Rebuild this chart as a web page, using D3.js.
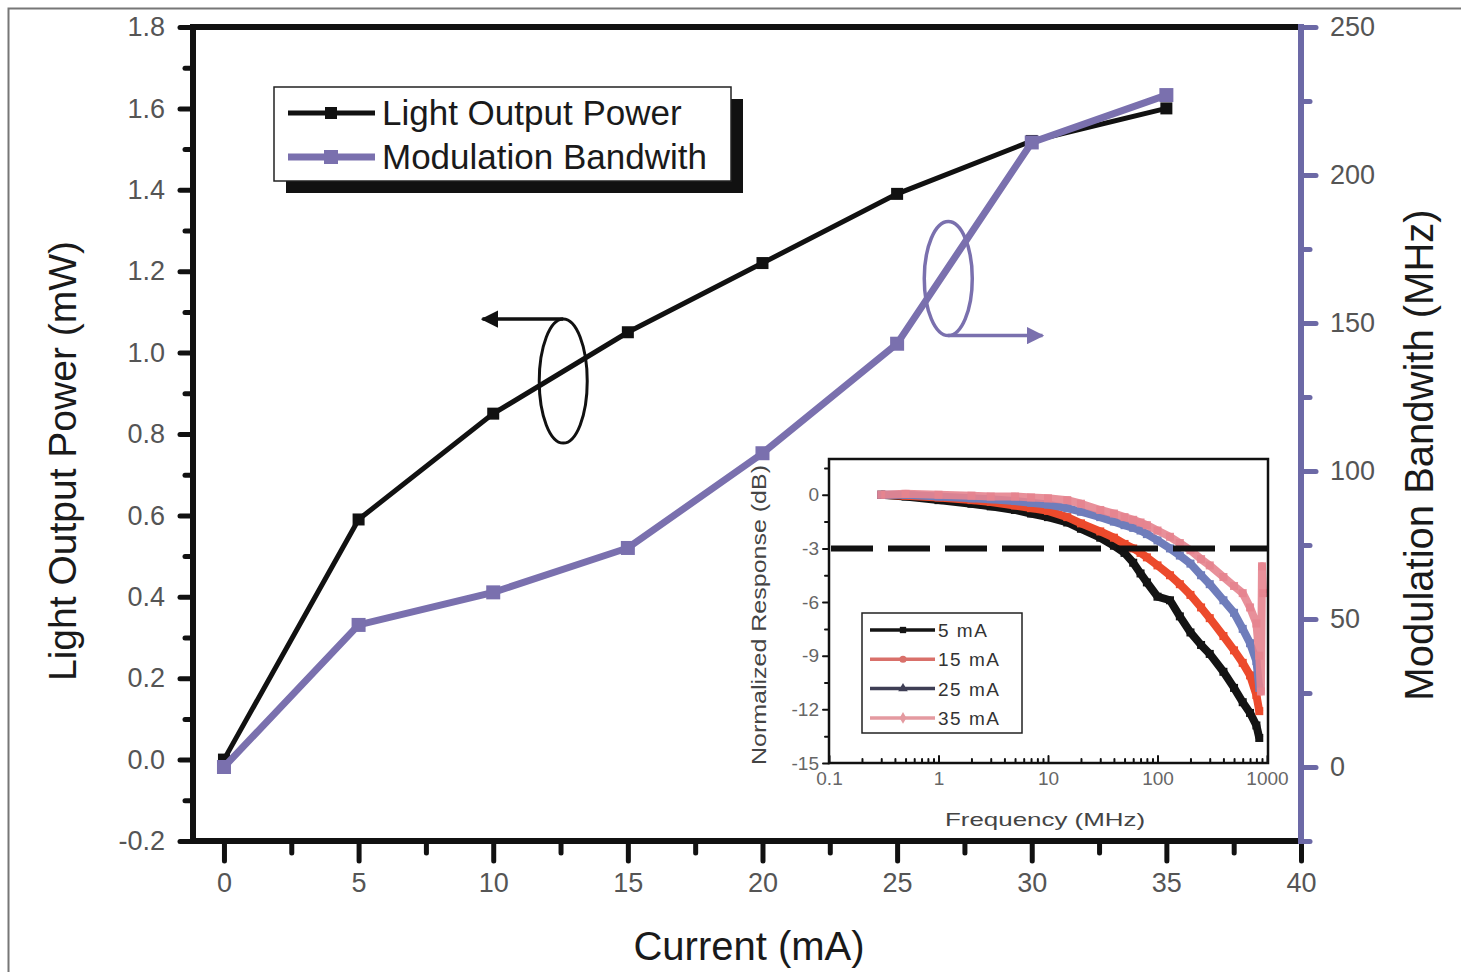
<!DOCTYPE html>
<html><head><meta charset="utf-8">
<script src="https://cdn.jsdelivr.net/npm/d3@7"></script>
<style>
body{margin:0;background:#fff;overflow:hidden}
text{font-family:"Liberation Sans",Arial,Helvetica,sans-serif}
</style>
</head><body>
<svg id="c" width="1461" height="972"></svg>
<script>
// ---------- main chart data ----------
const current    = [0, 5, 10, 15, 20, 25, 30, 35];
const lightPower = [0.00, 0.59, 0.85, 1.05, 1.22, 1.39, 1.52, 1.60];
const bandwidth  = [0, 48, 59, 74, 106, 143, 211, 227];
const xTicks      = [0, 5, 10, 15, 20, 25, 30, 35, 40];
const xMinor      = [2.5, 7.5, 12.5, 17.5, 22.5, 27.5, 32.5, 37.5];
const yLeftTicks  = [-0.2, 0.0, 0.2, 0.4, 0.6, 0.8, 1.0, 1.2, 1.4, 1.6, 1.8];
const yLeftMinor  = [-0.1, 0.1, 0.3, 0.5, 0.7, 0.9, 1.1, 1.3, 1.5, 1.7];
const yRightTicks = [0, 50, 100, 150, 200, 250];
const yRightMinor = [-25, 25, 75, 125, 175, 225];
const seriesNames = ["Light Output Power", "Modulation Bandwith"];

// ---------- inset data ----------
const freq   = [0.3, 0.5, 1, 2, 3, 5, 7, 10, 15, 20, 30, 40, 50, 60, 70, 80, 100, 130, 160, 200, 250, 300, 400, 500, 600, 700, 800, 850];
const resp5  = [0, -0.1, -0.3, -0.5, -0.65, -0.85, -1.05, -1.25, -1.55, -1.9, -2.4, -2.85, -3.25, -3.8, -4.4, -4.9, -5.7, -5.9, -6.8, -7.7, -8.4, -8.9, -9.9, -10.8, -11.6, -12.2, -12.9, -13.6];
const resp15 = [0, -0.05, -0.15, -0.3, -0.4, -0.6, -0.75, -0.9, -1.25, -1.6, -2.05, -2.4, -2.75, -3.0, -3.25, -3.5, -3.95, -4.5, -5.0, -5.6, -6.3, -6.9, -7.9, -8.7, -9.4, -10.1, -11.2, -12.1];
const resp25 = [0, 0, -0.1, -0.2, -0.25, -0.35, -0.45, -0.55, -0.75, -0.95, -1.25, -1.5, -1.7, -1.85, -2.0, -2.2, -2.55, -3.0, -3.4, -3.85, -4.5, -5.0, -5.9, -6.6, -7.5, -8.3, -9.3, -10.8];
const resp35 = [0, 0.05, 0, -0.05, -0.1, -0.1, -0.15, -0.2, -0.3, -0.5, -0.85, -1.05, -1.25, -1.4, -1.55, -1.7, -2.0, -2.35, -2.7, -3.1, -3.6, -3.95, -4.6, -5.1, -5.5, -6.3, -7.2, -9.0];
const tail35Freq = [880, 900, 920];
const tail35Resp = [-11.0, -4.0, -5.5];
const insetLabels = ["5 mA", "15 mA", "25 mA", "35 mA"];
const insetYTicks = [0, -3, -6, -9, -12, -15];
const insetYMinor = [1.5, -1.5, -4.5, -7.5, -10.5, -13.5];
const insetXTicks = [0.1, 1, 10, 100, 1000];
const cutoffDb = -3;

// ---------- styles ----------
const BLACK = "#111", PURPLE = "#7a70ae", PURPLE_AXIS = "#6c69a6", LABEL = "#555";
const insetColors = ["#141414", "#ec4a2c", "#6f7dbb", "#e5848f"];
const insetLegendColors = ["#141414", "#d9706a", "#3e3e55", "#e49aa0"];
const hyph = f => d => f(d).replace("\u2212", "-");

const svg = d3.select("#c");

// outer frame
svg.append("rect").attr("x", 8.5).attr("y", 8.5).attr("width", 1480).attr("height", 1000)
  .attr("fill", "none").attr("stroke", "#777").attr("stroke-width", 2);

// ---------- main scales ----------
const L = 193, R = 1301, T = 27, B = 841;
const x  = d3.scaleLinear().domain([-1.15, 40]).range([L, R]);
const yL = d3.scaleLinear().domain([-0.2, 1.8]).range([B, T]);
const yR = d3.scaleLinear().domain([-25, 250]).range([B, T]);

function styleAxis(g, color, width, fontSize, fill) {
  g.select(".domain").remove();
  g.selectAll(".tick line").attr("stroke", color).attr("stroke-width", width).attr("stroke-linecap", "round");
  g.selectAll(".tick text").attr("fill", fill || LABEL).attr("font-size", fontSize)
    .attr("font-family", '"Liberation Sans",Arial,sans-serif');
}

// bottom axis
svg.append("g").attr("transform", `translate(0,${B})`)
  .call(d3.axisBottom(x).tickValues(xMinor).tickSize(12).tickFormat(""))
  .call(g => styleAxis(g, BLACK, 5, 0));
svg.append("g").attr("transform", `translate(0,${B})`)
  .call(d3.axisBottom(x).tickValues(xTicks).tickSize(20).tickPadding(12).tickFormat(d3.format("d")))
  .call(g => styleAxis(g, BLACK, 5, 27));

// left axis
svg.append("g").attr("transform", `translate(${L},0)`)
  .call(d3.axisLeft(yL).tickValues(yLeftMinor).tickSize(8).tickFormat(""))
  .call(g => styleAxis(g, BLACK, 5, 0));
svg.append("g").attr("transform", `translate(${L},0)`)
  .call(d3.axisLeft(yL).tickValues(yLeftTicks).tickSize(13).tickPadding(15).tickFormat(hyph(d3.format(".1f"))))
  .call(g => styleAxis(g, BLACK, 5, 27));

// right axis
svg.append("g").attr("transform", `translate(${R},0)`)
  .call(d3.axisRight(yR).tickValues(yRightMinor).tickSize(9).tickFormat(""))
  .call(g => styleAxis(g, PURPLE_AXIS, 5, 0));
svg.append("g").attr("transform", `translate(${R},0)`)
  .call(d3.axisRight(yR).tickValues(yRightTicks).tickSize(15).tickPadding(14).tickFormat(d3.format("d")))
  .call(g => styleAxis(g, PURPLE_AXIS, 5, 27));

// frame lines
svg.append("line").attr("x1", L - 3).attr("x2", R).attr("y1", T).attr("y2", T).attr("stroke", BLACK).attr("stroke-width", 6);
svg.append("line").attr("x1", L - 3).attr("x2", R).attr("y1", B).attr("y2", B).attr("stroke", BLACK).attr("stroke-width", 6);
svg.append("line").attr("x1", L).attr("x2", L).attr("y1", T - 3).attr("y2", B + 3).attr("stroke", BLACK).attr("stroke-width", 6);
svg.append("line").attr("x1", R).attr("x2", R).attr("y1", T - 3).attr("y2", B + 3).attr("stroke", PURPLE_AXIS).attr("stroke-width", 6);

// axis titles
svg.append("text").attr("transform", `translate(76,461) rotate(-90)`).attr("text-anchor", "middle")
  .attr("font-size", 39).attr("fill", "#1a1a1a").text("Light Output Power (mW)");
svg.append("text").attr("transform", `translate(1433,455) rotate(-90)`).attr("text-anchor", "middle")
  .attr("font-size", 40).attr("fill", "#1a1a1a").text("Modulation Bandwith (MHz)");
svg.append("text").attr("x", 749).attr("y", 960).attr("text-anchor", "middle")
  .attr("font-size", 40).attr("fill", "#1a1a1a").text("Current (mA)");

// ---------- main series ----------
const powerPts = current.map((c, i) => [c, lightPower[i]]);
const bwPts = current.map((c, i) => [c, bandwidth[i]]);
svg.append("path").datum(powerPts)
  .attr("d", d3.line().x(d => x(d[0])).y(d => yL(d[1])))
  .attr("fill", "none").attr("stroke", BLACK).attr("stroke-width", 5);
svg.selectAll(".mp").data(powerPts).enter().append("rect")
  .attr("x", d => x(d[0]) - 6).attr("y", d => yL(d[1]) - 6).attr("width", 12).attr("height", 12).attr("fill", BLACK);
svg.append("path").datum(bwPts)
  .attr("d", d3.line().x(d => x(d[0])).y(d => yR(d[1])))
  .attr("fill", "none").attr("stroke", PURPLE).attr("stroke-width", 7);
svg.selectAll(".mb").data(bwPts).enter().append("rect")
  .attr("x", d => x(d[0]) - 7).attr("y", d => yR(d[1]) - 7).attr("width", 14).attr("height", 14).attr("fill", PURPLE);

// ---------- annotations (ellipses + arrows) ----------
const defs = svg.append("defs");
[["ahB", BLACK], ["ahP", PURPLE]].forEach(([id, col]) => {
  defs.append("marker").attr("id", id).attr("viewBox", "0 0 10 10").attr("refX", 9).attr("refY", 5)
    .attr("markerWidth", 5).attr("markerHeight", 5).attr("orient", "auto-start-reverse").attr("markerUnits", "strokeWidth")
    .append("path").attr("d", "M0,0 L10,5 L0,10 Z").attr("fill", col);
});
const ann1 = {cx: 12.6, cy: 0.93, arrowTo: 9.6};
const e1x = x(ann1.cx), e1y = yL(ann1.cy);
svg.append("ellipse").attr("cx", e1x).attr("cy", e1y).attr("rx", 24).attr("ry", 62)
  .attr("fill", "none").attr("stroke", BLACK).attr("stroke-width", 3);
svg.append("line").attr("x1", e1x).attr("y1", e1y - 62).attr("x2", x(ann1.arrowTo)).attr("y2", e1y - 62)
  .attr("stroke", BLACK).attr("stroke-width", 3.5).attr("marker-end", "url(#ahB)");
const ann2 = {cx: 26.9, cy: 165, arrowTo: 30.4};
const e2x = x(ann2.cx), e2y = yR(ann2.cy);
svg.append("ellipse").attr("cx", e2x).attr("cy", e2y).attr("rx", 24).attr("ry", 57)
  .attr("fill", "none").attr("stroke", PURPLE).attr("stroke-width", 3.5);
svg.append("line").attr("x1", e2x).attr("y1", e2y + 57).attr("x2", x(ann2.arrowTo)).attr("y2", e2y + 57)
  .attr("stroke", PURPLE).attr("stroke-width", 3.5).attr("marker-end", "url(#ahP)");

// ---------- main legend ----------
const lg = svg.append("g");
lg.append("rect").attr("x", 286).attr("y", 99).attr("width", 457).attr("height", 94).attr("fill", BLACK);
lg.append("rect").attr("x", 274).attr("y", 87).attr("width", 457).attr("height", 94)
  .attr("fill", "#fff").attr("stroke", "#222").attr("stroke-width", 1.5);
seriesNames.forEach((name, i) => {
  const yy = 113 + i * 44, col = i === 0 ? BLACK : PURPLE, sz = i === 0 ? 12 : 14;
  lg.append("line").attr("x1", 288).attr("x2", 375).attr("y1", yy).attr("y2", yy)
    .attr("stroke", col).attr("stroke-width", i === 0 ? 5 : 7);
  lg.append("rect").attr("x", 331 - sz / 2).attr("y", yy - sz / 2).attr("width", sz).attr("height", sz).attr("fill", col);
  lg.append("text").attr("x", 382).attr("y", yy + 12).attr("font-size", 35).attr("fill", "#1a1a1a").text(name);
});

// ---------- inset ----------
const IL = 829, IR = 1268, IT = 459, IB = 763;
const ix = d3.scaleLog().domain([0.1, 1000]).range([IL, IR - 1]);
const iy = d3.scaleLinear().domain([-15, 2]).range([IB, IT]);
const ins = svg.append("g");
ins.append("rect").attr("x", IL).attr("y", IT).attr("width", IR - IL).attr("height", IB - IT).attr("fill", "#fff");

// ticks
const minorX = [];
[0.1, 1, 10, 100].forEach(d => { for (let k = 2; k <= 9; k++) minorX.push(d * k); });
ins.append("g").attr("transform", `translate(0,${IB})`)
  .call(d3.axisTop(ix).tickValues(minorX).tickSize(4).tickFormat(""))
  .call(g => styleAxis(g, BLACK, 2, 0));
ins.append("g").attr("transform", `translate(0,${IB})`)
  .call(d3.axisBottom(ix).tickValues(insetXTicks).tickSize(0).tickPadding(9).tickFormat(d => String(d)))
  .call(g => styleAxis(g, BLACK, 2, 19, "#666"));
ins.append("g").attr("transform", `translate(0,${IB})`)
  .call(d3.axisTop(ix).tickValues(insetXTicks).tickSize(7).tickFormat(""))
  .call(g => styleAxis(g, BLACK, 2, 0));
ins.append("g").attr("transform", `translate(${IL},0)`)
  .call(d3.axisLeft(iy).tickValues(insetYMinor).tickSize(4).tickFormat(""))
  .call(g => styleAxis(g, BLACK, 2, 0));
ins.append("g").attr("transform", `translate(${IL},0)`)
  .call(d3.axisLeft(iy).tickValues(insetYTicks).tickSize(6).tickPadding(4).tickFormat(d => String(d)))
  .call(g => styleAxis(g, BLACK, 2, 19, "#666"));

// curves
const respSeries = [resp5, resp15, resp25, resp35];
const iline = d3.line().x(d => ix(d[0])).y(d => iy(d[1]));
respSeries.forEach((vals, s) => {
  let pts = freq.map((f, i) => [f, vals[i]]);
  if (s === 3) pts = pts.concat(tail35Freq.map((f, i) => [f, tail35Resp[i]]));
  ins.append("path").datum(pts).attr("d", iline).attr("fill", "none")
    .attr("stroke", insetColors[s]).attr("stroke-width", 8).attr("stroke-linejoin", "round")
    .attr("opacity", s === 3 ? 0.9 : 1);
  ins.selectAll(null).data(pts).enter().append("rect")
    .attr("x", d => ix(d[0]) - 4).attr("y", d => iy(d[1]) - 4).attr("width", 8).attr("height", 8)
    .attr("fill", insetColors[s]).attr("opacity", s === 3 ? 0.9 : 1);
});

// -3 dB dashed line
ins.append("line").attr("x1", IL + 2).attr("x2", IR).attr("y1", iy(cutoffDb)).attr("y2", iy(cutoffDb))
  .attr("stroke", BLACK).attr("stroke-width", 6).attr("stroke-dasharray", "42 15");

// inset border
ins.append("rect").attr("x", IL).attr("y", IT).attr("width", IR - IL).attr("height", IB - IT)
  .attr("fill", "none").attr("stroke", BLACK).attr("stroke-width", 2.5);

// inset titles
ins.append("text").attr("transform", `translate(766,615) rotate(-90)`).attr("text-anchor", "middle")
  .attr("font-size", 20).attr("fill", "#444").attr("textLength", 300).attr("lengthAdjust", "spacingAndGlyphs")
  .text("Normalized Response (dB)");
ins.append("text").attr("x", 1045).attr("y", 826).attr("text-anchor", "middle")
  .attr("font-size", 19).attr("fill", "#444").attr("textLength", 200).attr("lengthAdjust", "spacingAndGlyphs")
  .text("Frequency (MHz)");

// inset legend
const il = ins.append("g");
il.append("rect").attr("x", 862).attr("y", 613).attr("width", 160).attr("height", 120)
  .attr("fill", "#fff").attr("stroke", "#222").attr("stroke-width", 1.5);
const sym = [d3.symbolSquare, d3.symbolCircle, d3.symbolTriangle, d3.symbolDiamond];
insetLabels.forEach((lab, i) => {
  const yy = 630 + i * 29.3;
  il.append("line").attr("x1", 870).attr("x2", 935).attr("y1", yy).attr("y2", yy)
    .attr("stroke", insetLegendColors[i]).attr("stroke-width", 3.5);
  il.append("path").attr("d", d3.symbol(sym[i], 40)).attr("transform", `translate(903,${yy})`)
    .attr("fill", insetLegendColors[i]);
  il.append("text").attr("x", 938).attr("y", yy + 7).attr("font-size", 19).attr("letter-spacing", 1.5)
    .attr("fill", "#333").text(lab);
});
</script>
</body></html>
